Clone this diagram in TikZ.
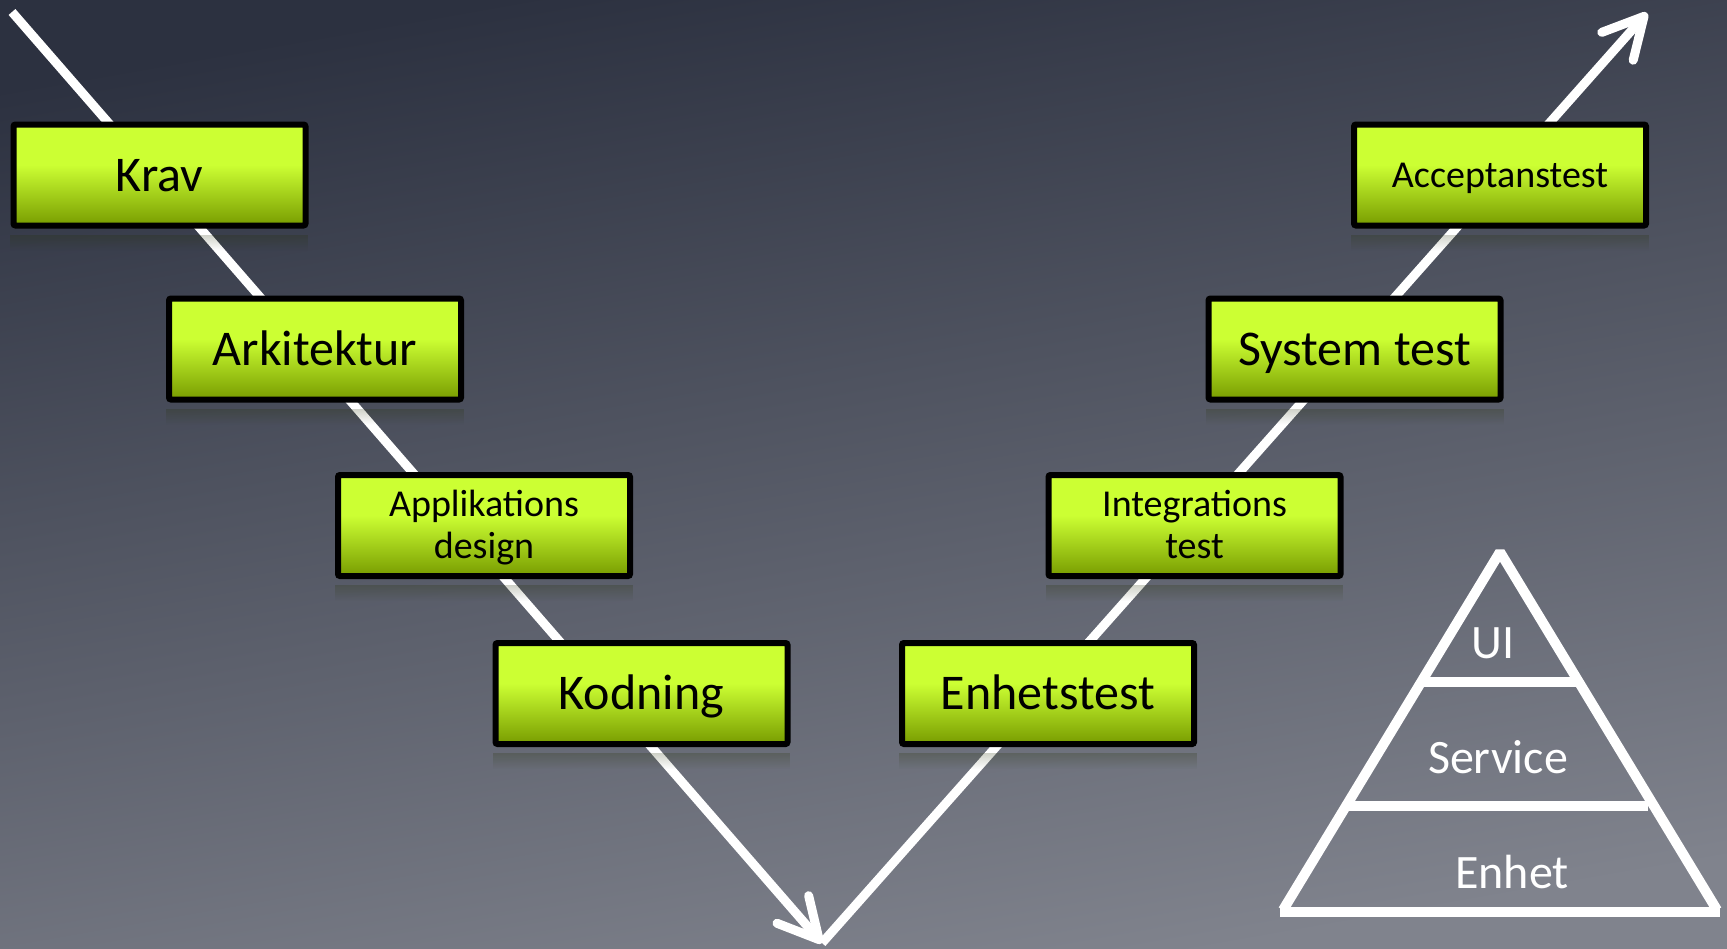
\documentclass[tikz,border=0pt]{standalone}
\usepackage{fontspec}
\setmainfont{Carlito}
\usepackage{tikz}
\usetikzlibrary{arrows.meta,fadings}

\definecolor{limetop}{HTML}{CCFF33}
\definecolor{limebot}{HTML}{789C00}
\definecolor{bgtop}{HTML}{2C3140}
\definecolor{bgbot}{HTML}{80838D}
\pgfdeclareverticalshading{limebox}{100bp}{color(0bp)=(limebot); color(25bp)=(limebot); color(55bp)=(limetop); color(100bp)=(limetop)}

\tikzset{
  vbox/.style={draw=black,line width=3pt,rounded corners=1pt,shade,shading=limebox,minimum width=146pt,minimum height=50.5pt,inner sep=0pt,align=center,font=\fontsize{25}{29}\selectfont,text height=16.1pt,text depth=0pt},
  vsmall/.style={vbox,font=\fontsize{19}{21}\selectfont,text height=33.2pt,text depth=0pt},
  vsmallone/.style={vsmall,text height=12.2pt},
  vline/.style={white,line width=4.5pt},
  vtip/.style={-{Straight Barb[length=20pt,width=21pt,round]}},
  pyr/.style={white,line width=5pt},
  pyrtext/.style={text=white,font=\fontsize{24}{28}\selectfont},
  refl/.style={fill=black!70!limebot,fill opacity=0.22,path fading=south}
}

\begin{document}
\begin{tikzpicture}[x=0.5pt,y=-0.5pt]
\useasboundingbox (0,0) rectangle (1727,948);
\fill[top color=bgtop,bottom color=bgbot,shading angle=10] (0,0) rectangle (1727,948);

% V
\coordinate (vstart) at (12,12);
\coordinate (vbot) at (822,943);
\coordinate (vend) at (1647,13);
\draw[vline,vtip] (vstart) -- (vbot);
\draw[vline,vtip] (vbot) -- (vend);

\node[vbox] (krav) at (159.5,175) {Krav};
\node[vbox] (ark) at (315,349) {Arkitektur};
\node[vsmall] (app) at (484,525.5) {Applikations\\design};
\node[vbox] (kod) at (641.5,693.5) {Kodning};
\node[vbox] (enh) at (1048,693.5) {Enhetstest};
\node[vsmall] (integ) at (1194.5,525.5) {Integrations\\test};
\node[vbox] (sys) at (1354.5,349) {System test};
\node[vsmallone] (acc) at (1500,175) {Acceptanstest};

\foreach \n in {krav,ark,app,kod,enh,integ,sys,acc}
  \fill[refl] ([yshift=-3pt]\n.south west) rectangle ([yshift=-11pt]\n.south east);

% pyramid
\coordinate (apex) at (1500,552);
\coordinate (pl) at (1283,910);
\coordinate (pr) at (1717,910);
\coordinate (bl) at (1280,912);
\coordinate (br) at (1720,912);
\coordinate (ua) at (1420,682);
\coordinate (ub) at (1580,682);
\coordinate (sa) at (1346,806);
\coordinate (sb) at (1648,806);
\draw[pyr,line join=bevel] (pl) -- (apex) -- (pr);
\draw[pyr] (bl) -- (br);
\draw[pyr] (ua) -- (ub);
\draw[pyr] (sa) -- (sb);
\node[pyrtext] (ui) at (1493,643) {UI};
\node[pyrtext] (service) at (1498,757) {Service};
\node[pyrtext] (enhet) at (1512,872) {Enhet};
\end{tikzpicture}
\end{document}
